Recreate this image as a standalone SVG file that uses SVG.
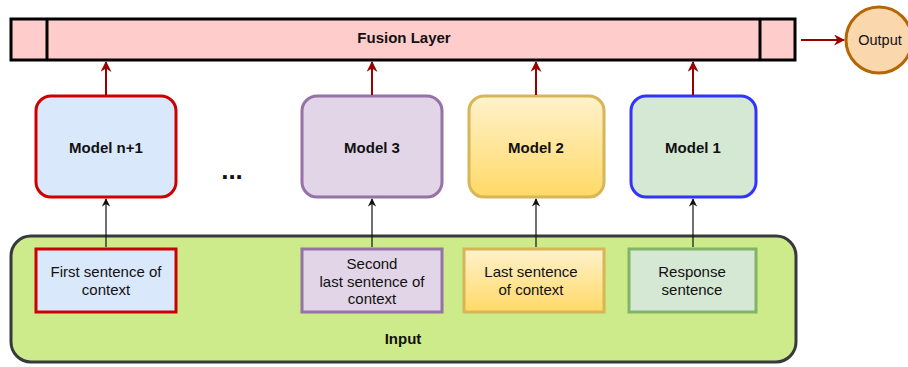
<svg xmlns="http://www.w3.org/2000/svg" width="908" height="367" viewBox="0 0 908 367">
<style>
text{font-family:"Liberation Sans",Arial,sans-serif;fill:#111;text-anchor:middle;dominant-baseline:central}
.b{font-weight:bold;font-size:15px}
.n{font-size:15px}
.red{stroke:#990000;stroke-width:2;fill:none}
.blk{stroke:#111;stroke-width:1.2;fill:none}
</style>
<defs>
<linearGradient id="yg" x1="0" y1="0" x2="0" y2="1"><stop offset="0" stop-color="#fff2cc"/><stop offset="1" stop-color="#ffd966"/></linearGradient>
<marker id="ar" viewBox="0 0 10 10" refX="9" refY="5" markerWidth="5.5" markerHeight="5.5" orient="auto" markerUnits="strokeWidth"><path d="M0,0 L10,5 L0,10 L3,5 z" fill="#990000"/></marker>
<marker id="ab" viewBox="0 0 10 10" refX="9" refY="5" markerWidth="7" markerHeight="7" orient="auto" markerUnits="strokeWidth"><path d="M0,0 L10,5 L0,10 L3,5 z" fill="#111"/></marker>
</defs>
<g id="input">
<rect x="11" y="236" width="785" height="126" rx="20" fill="#cdeb8b" stroke="#36393d" stroke-width="3"/>
<text class="b" x="403" y="338">Input</text>
</g>
<g id="fusion">
<rect x="11" y="19" width="784" height="41" fill="#ffcccc" stroke="#000" stroke-width="3"/>
<line x1="47" y1="19" x2="47" y2="60" stroke="#000" stroke-width="3"/>
<line x1="760" y1="19" x2="760" y2="60" stroke="#000" stroke-width="3"/>
<text class="b" x="404" y="37">Fusion Layer</text>
</g>
<g id="output">
<circle cx="879" cy="40" r="33" fill="#fad7ac" stroke="#b46504" stroke-width="3"/>
<text x="880" y="40" style="font-size:14.5px">Output</text>
</g>
<g id="modelN">
<rect x="36" y="96" width="140" height="101" rx="15" fill="#dae8fc" stroke="#cc0000" stroke-width="3"/>
<text class="b" x="106" y="147">Model n+1</text>
</g>
<g id="model3">
<rect x="302" y="96" width="140" height="101" rx="15" fill="#e1d5e7" stroke="#9673a6" stroke-width="3"/>
<text class="b" x="372" y="147">Model 3</text>
</g>
<g id="model2">
<rect x="469" y="96" width="135" height="101" rx="15" fill="url(#yg)" stroke="#d6b656" stroke-width="3"/>
<text class="b" x="536" y="147">Model 2</text>
</g>
<g id="model1">
<rect x="631" y="96" width="125" height="101" rx="15" fill="#d5e8d4" stroke="#3333ff" stroke-width="3"/>
<text class="b" x="693" y="147">Model 1</text>
</g>
<g id="dots"><text x="232" y="170" style="font-size:26px;font-weight:bold">...</text></g>
<g id="inN">
<rect x="36" y="249" width="140" height="63" fill="#dae8fc" stroke="#cc0000" stroke-width="3"/>
<text class="n" x="106" y="271">First sentence of</text>
<text class="n" x="106" y="289">context</text>
</g>
<g id="in3">
<rect x="302" y="249" width="140" height="63" fill="#e1d5e7" stroke="#9673a6" stroke-width="3"/>
<text class="n" x="372" y="263">Second</text>
<text class="n" x="372" y="281">last sentence of</text>
<text class="n" x="372" y="298">context</text>
</g>
<g id="in2">
<rect x="464" y="249" width="140" height="63" fill="url(#yg)" stroke="#d6b656" stroke-width="3"/>
<text class="n" x="531" y="271">Last sentence</text>
<text class="n" x="531" y="289">of context</text>
</g>
<g id="in1">
<rect x="629" y="249" width="127" height="63" fill="#d5e8d4" stroke="#82b366" stroke-width="3"/>
<text class="n" x="692" y="271">Response</text>
<text class="n" x="692" y="289">sentence</text>
</g>
<g id="connectors">
<line class="red" x1="106" y1="95" x2="106" y2="62" marker-end="url(#ar)"/>
<line class="red" x1="372" y1="95" x2="372" y2="62" marker-end="url(#ar)"/>
<line class="red" x1="536" y1="95" x2="536" y2="62" marker-end="url(#ar)"/>
<line class="red" x1="693" y1="95" x2="693" y2="62" marker-end="url(#ar)"/>
<line class="red" x1="801" y1="40" x2="844" y2="40" marker-end="url(#ar)"/>
<line class="blk" x1="106" y1="247" x2="106" y2="199" marker-end="url(#ab)"/>
<line class="blk" x1="372" y1="247" x2="372" y2="199" marker-end="url(#ab)"/>
<line class="blk" x1="536" y1="247" x2="536" y2="199" marker-end="url(#ab)"/>
<line class="blk" x1="693" y1="247" x2="693" y2="199" marker-end="url(#ab)"/>
</g>
</svg>
